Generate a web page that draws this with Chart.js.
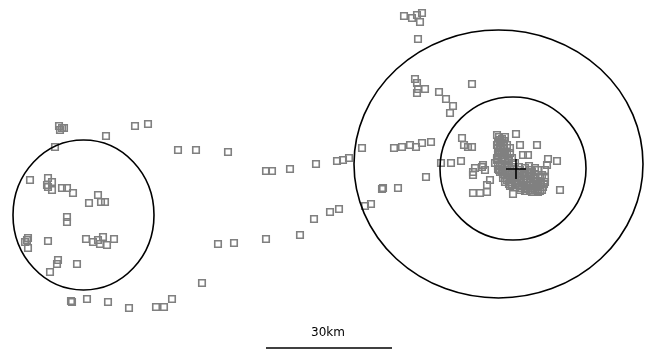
<!DOCTYPE html>
<html>
<head>
<meta charset="utf-8">
<script src="https://cdn.jsdelivr.net/npm/chart.js@4"></script>
<style>
  html, body { margin: 0; padding: 0; background: #fff; }
  #wrap { width: 652px; height: 352px; }
</style>
</head>
<body>
<div id="wrap"><canvas id="canvas" width="652" height="352"></canvas></div>
<script>
// map units (km grid, 1 unit = 1 px in the original)
// west site sightings
let westSite = [
  [59,126],[62,128],[64,128],[60,130],[135,126],[148,124],[106,136],[55,147],
  [30,180],[48,178],[47,185],[52,182],[52,190],[48,187],[62,188],[67,188],[73,193],
  [89,203],[98,195],[101,202],[105,202],[67,217],[67,222],[27,240],[28,238],[28,248],
  [25,242],[48,241],[86,239],[93,242],[98,240],[103,237],[107,245],[100,244],[114,239],
  [58,260],[57,264],[77,264],[50,272],[72,302],[71,301],[87,299],[108,302],[129,308],
  [156,307],[164,307],[172,299]
];

// sightings along the two routes between the sites
let routes = [
  [178,150],[196,150],[228,152],[266,171],[272,171],[290,169],[316,164],[337,161],
  [343,160],[349,158],[362,148],[218,244],[234,243],[266,239],[300,235],[314,219],
  [330,212],[339,209],[365,206],[371,204],[202,283]
];

// east site, outer ring
let eastOuter = [
  [404,16],[412,18],[417,15],[422,13],[420,22],[418,39],[415,79],[417,83],[417,93],
  [418,89],[425,89],[472,84],[439,92],[446,99],[453,106],[450,113],[394,148],[402,147],
  [410,145],[416,147],[422,143],[431,142],[426,177],[382,189],[383,188],[398,188],
  [441,163],[451,163],[461,161],[462,138],[464,145],[468,147]
];

// east site, core
let eastCore = [
  [516,134],[505,137],[520,145],[537,145],[472,147],[523,155],[528,155],[497,158],
  [495,163],[508,163],[515,163],[548,159],[557,161],[547,165],[545,170],[473,172],
  [475,168],[473,175],[482,167],[485,170],[483,165],[490,180],[487,185],[473,193],
  [480,193],[487,192],[513,194],[560,190],[530,190],[532,192],[497,160],[502,160],
  [497,135],[500,140],[503,145],[500,150],[505,152],[510,148],[497,145],[502,157],
  [508,158],[512,158],[500,165],[505,168],[510,170],[515,172],[520,170],[525,168],
  [530,170],[505,175],[510,178],[515,180],[520,178],[525,176],[530,176],[535,174],
  [500,172],[505,182],[512,185],[518,185],[524,183],[530,182],[536,182],[540,185],
  [528,188],[535,190],[542,190],[520,190],[540,178],[545,182],[538,170],[542,175],
  [499,170],[503,178],[510,186],[517,176],[527,181],[533,186],[538,189],
  [499,137],[502,139],[498,142],[501,143],[504,141],[498,148],[501,147],[504,149],
  [507,145],[499,152],[502,153],[498,155],[504,155],[507,154],[510,153],[505,160],
  [509,161],[498,166],[502,167],[507,166],[512,167],[498,169],[502,171],[507,172],
  [512,174],[503,174],[508,175],[513,177],[518,174],[522,173],[527,173],[532,172],
  [507,180],[511,182],[516,183],[521,181],[526,179],[531,179],[535,178],[538,181],
  [541,183],[509,184],[515,187],[522,186],[526,185],[530,185],[534,184],[538,186],
  [543,187],[526,189],[531,188],[537,187],[540,191],[544,184],[545,178],[535,168],
  [529,166],[524,172],[519,167],[514,169],[520,188],[525,191],[533,192],[538,192]
];

// home range rings: centre x, centre y, radius x, radius y
let rings = [
  [83.5, 215, 70.5, 75],
  [498.5, 164, 144.5, 134],
  [513, 168.5, 73, 71.5]
];

// nest location
let nest = [[516, 169]];

// scale bar
let scaleLabel = '30km';
let scaleFrom = 266;
let scaleTo = 392;

function toPoints(list) {
  return list.map(p => ({ x: p[0], y: p[1] }));
}

function squares(list) {
  return {
    data: toPoints(list),
    pointStyle: 'rect',
    pointRadius: 4.6,
    borderColor: '#808080',
    backgroundColor: 'rgba(0,0,0,0)',
    borderWidth: 1.6
  };
}

// draws the rings and the scale bar through the chart's scales
let overlay = {
  id: 'overlay',
  afterDatasetsDraw(chart) {
    let ctx = chart.ctx;
    let xs = chart.scales.x;
    let ys = chart.scales.y;
    ctx.save();
    ctx.strokeStyle = '#000';
    ctx.lineWidth = 1.6;
    rings.forEach(r => {
      let cx = xs.getPixelForValue(r[0]);
      let cy = ys.getPixelForValue(r[1]);
      let rx = Math.abs(xs.getPixelForValue(r[0] + r[2]) - cx);
      let ry = Math.abs(ys.getPixelForValue(r[1] + r[3]) - cy);
      ctx.beginPath();
      ctx.ellipse(cx, cy, rx, ry, 0, 0, Math.PI * 2);
      ctx.stroke();
    });
    let x1 = xs.getPixelForValue(scaleFrom);
    let x2 = xs.getPixelForValue(scaleTo);
    let yb = ys.getPixelForValue(348);
    ctx.lineWidth = 1.5;
    ctx.beginPath();
    ctx.moveTo(x1, yb);
    ctx.lineTo(x2, yb);
    ctx.stroke();
    ctx.fillStyle = '#000';
    ctx.font = '12px "DejaVu Sans", sans-serif';
    ctx.textAlign = 'center';
    ctx.textBaseline = 'middle';
    ctx.fillText(scaleLabel, xs.getPixelForValue(328), ys.getPixelForValue(333));
    ctx.restore();
  }
};

let options = {
  type: 'scatter',
  data: {
    datasets: [
      squares(westSite),
      squares(routes),
      squares(eastOuter),
      squares(eastCore),
      {
        // drawn on top of the core cluster
        order: -1,
        data: toPoints(nest),
        pointStyle: 'cross',
        pointRadius: 10,
        borderColor: '#000',
        borderWidth: 1.6
      }
    ]
  },
  options: {
    responsive: false,
    animation: false,
    layout: { padding: 0, autoPadding: false },
    plugins: {
      legend: { display: false },
      tooltip: { enabled: false }
    },
    scales: {
      x: { type: 'linear', min: 0, max: 652, display: false },
      y: { type: 'linear', min: 0, max: 352, reverse: true, display: false }
    }
  },
  plugins: [overlay]
};

let chart = new Chart(document.getElementById('canvas'), options);
</script>
</body>
</html>
